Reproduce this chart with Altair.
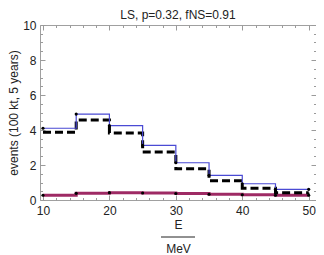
import altair as alt
import pandas as pd

# ---- data ----
edges = [10, 15, 20, 25, 30, 35, 40, 45, 50]
blue_vals = [4.10, 4.91, 4.25, 3.12, 2.13, 1.41, 0.93, 0.61]
dashed_vals = [3.87, 4.57, 3.83, 2.74, 1.79, 1.10, 0.67, 0.42]
magenta_vals = [0.27, 0.38, 0.42, 0.40, 0.37, 0.33, 0.30, 0.27]

x_tick_values = [10, 12, 14, 16, 18, 20, 22, 24, 26, 28, 30, 32, 34, 36, 38, 40, 42, 44, 46, 48, 50]
x_label_values = [10, 20, 30, 40, 50]
y_tick_values = [0, 0.5, 1, 1.5, 2, 2.5, 3, 3.5, 4, 4.5, 5, 5.5, 6, 6.5, 7, 7.5, 8, 8.5, 9, 9.5, 10]
y_label_values = [0, 2, 4, 6, 8, 10]

title_text = "LS, p=0.32, fNS=0.91"
y_title = "events (100 kt, 5 years)"
x_title = ["E", "MeV"]


def steps(vals, name):
    v = list(vals) + [vals[-1]]
    return pd.DataFrame({"E": edges, "events": v, "series": name})


blue_df = steps(blue_vals, "blue")
dashed_df = steps(dashed_vals, "dashed")
magenta_df = steps(magenta_vals, "magenta")
dots_df = pd.concat([blue_df, magenta_df], ignore_index=True)
# closing edge at E=50 between the dashed and magenta last bins
edge_df = pd.DataFrame({"E": [edges[-1]], "lo": [magenta_vals[-1]], "hi": [dashed_vals[-1]]})

W, H = 276, 175
FONT = "Liberation Sans"
TICK = "#9a9a9a"

xs = alt.Scale(domain=[9.55, 51.1], nice=False, zero=False)
ys = alt.Scale(domain=[0, 10], nice=False, zero=False)

x_major = {"condition": {"test": "datum.value % 10 === 0", "value": 5}, "value": 2.5}
y_major = {"condition": {"test": "datum.value % 2 === 0", "value": 5}, "value": 2.5}

# label axes
x_lab = alt.Axis(orient="bottom", values=x_label_values, ticks=False, domain=False, grid=False,
                 labelFont=FONT, labelFontSize=12, labelColor="#222", labelPadding=5,
                 title=x_title, titleFont=FONT, titleFontSize=12, titleFontWeight="normal",
                 titleColor="#222", titleLineHeight=24, titlePadding=3)
y_lab = alt.Axis(orient="left", values=y_label_values, ticks=False, domain=False, grid=False,
                 labelFont=FONT, labelFontSize=12, labelColor="#222", labelPadding=4,
                 title=y_title, titleFont=FONT, titleFontSize=12, titleFontWeight="normal",
                 titleColor="#222", titlePadding=2)
# inward tick axes (offset onto the opposite frame edge)
x_in_bottom = alt.Axis(orient="top", offset=-H, values=x_tick_values, labels=False, domain=False,
                       grid=False, title=None, tickColor=TICK, tickSize=x_major)
x_in_top = alt.Axis(orient="bottom", offset=-H, values=x_tick_values, labels=False, domain=False,
                    grid=False, title=None, tickColor=TICK, tickSize=x_major)
y_in_left = alt.Axis(orient="right", offset=-W, values=y_tick_values, labels=False, domain=False,
                     grid=False, title=None, tickColor=TICK, tickSize=y_major)
y_in_right = alt.Axis(orient="left", offset=-W, values=y_tick_values, labels=False, domain=False,
                      grid=False, title=None, tickColor=TICK, tickSize=y_major)

magenta = alt.Chart(magenta_df).mark_line(
    interpolate="step-after", color="#9e2a64", strokeWidth=3
).encode(
    x=alt.X("E:Q", scale=xs, axis=x_in_top),
    y=alt.Y("events:Q", scale=ys, axis=y_in_right),
)

dashed = alt.Chart(dashed_df).mark_line(
    interpolate="step-after", color="black", strokeWidth=3, strokeDash=[8, 4]
).encode(
    x=alt.X("E:Q", scale=xs, axis=x_in_bottom),
    y=alt.Y("events:Q", scale=ys, axis=y_in_left),
)

blue = alt.Chart(blue_df).mark_line(
    interpolate="step-after", color="#4a4ad4", strokeWidth=1.2
).encode(
    x=alt.X("E:Q", scale=xs, axis=x_lab),
    y=alt.Y("events:Q", scale=ys, axis=y_lab),
)

edge = alt.Chart(edge_df).mark_rule(color="black", strokeWidth=1.5).encode(
    x=alt.X("E:Q", scale=xs, axis=None),
    y=alt.Y("lo:Q", scale=ys, axis=None),
    y2="hi:Q",
)

dots = alt.Chart(dots_df).mark_circle(color="black", size=10, opacity=1).encode(
    x=alt.X("E:Q", scale=xs, axis=None),
    y=alt.Y("events:Q", scale=ys, axis=None),
)

frac_bar = alt.Chart(pd.DataFrame({"k": [0]})).mark_rule(color="#222", strokeWidth=1).encode(
    x=alt.value(121), x2=alt.value(155), y=alt.value(212)
)

chart = alt.layer(magenta, dashed, blue, edge, dots, frac_bar).resolve_axis(
    x="independent", y="independent"
).properties(
    width=W, height=H,
    title=alt.TitleParams(title_text, font=FONT, fontSize=12, fontWeight="normal",
                          color="#222", anchor="middle", offset=-3),
    autosize=alt.AutoSizeParams(type="none"),
    padding={"left": 32, "top": 17, "right": 0, "bottom": 54},
).configure_view(stroke="#a0a0a0", strokeWidth=1)

chart.save("out.html", embed_options={"renderer": "svg", "actions": False})
